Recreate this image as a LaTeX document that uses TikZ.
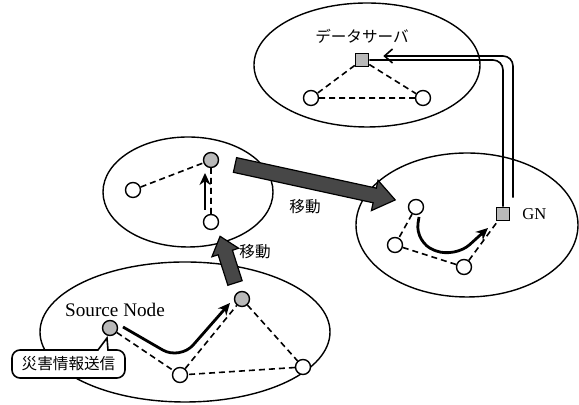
\documentclass[tikz,border=0pt]{standalone}
\usepackage{fontspec}
\setmainfont{Liberation Serif}
\newfontfamily\jfont{Noto Sans CJK JP}
\usetikzlibrary{arrows.meta,calc,positioning}

\begin{document}
\begin{tikzpicture}[x=0.5pt, y=0.5pt,
  area/.style={draw, line width=0.7pt},
  host/.style={circle, draw, line width=0.7pt, fill=white, minimum size=7.5pt, inner sep=0pt},
  mobile/.style={host, fill=gray!55},
  gw/.style={rectangle, draw, line width=0.8pt, fill=gray!55, minimum size=6.5pt, inner sep=0pt},
  link/.style={dash pattern=on 3pt off 2pt, line width=0.8pt},
  route/.style={line width=1.4pt, rounded corners=6pt, -{Stealth[length=6pt, width=5.5pt]}},
  move/.style={draw, line width=0.6pt, fill=black!72},
  jp/.style={font=\jfont\fontsize{7.8}{9}\selectfont},
]
  \useasboundingbox (0,0) rectangle (579,405);

  % four areas
  \draw[area] (367,340) ellipse (113 and 62);
  \draw[area] (188,213) ellipse (85 and 55);
  \draw[area] (467,180) ellipse (111 and 72);
  \draw[area] (185,73) ellipse (145 and 70);

  % data server area
  \node[gw] (ds) at (362,345) {};
  \node[jp, above=1pt of ds] (dslbl) {データサーバ};
  \node[host] (t1) at (311,307) {};
  \node[host] (t2) at (423,307) {};
  \draw[link] (ds) -- (t1) (ds) -- (t2) (t1) -- (t2);

  % middle area
  \node[mobile] (m0) at (211,245) {};
  \node[host] (m1) at (133,215) {};
  \node[host] (m2) at (211,183) {};
  \draw[link] (m1) -- (m0) (m2) -- (m0);
  \draw[route] ($(m2)+(-6,12)$) -- ($(m0)+(-6,-13)$);

  % source area
  \node[mobile] (src) at (110,77) {};
  \node[host] (b1) at (180,30) {};
  \node[mobile] (b2) at (242,106) {};
  \node[host] (b3) at (303,38) {};
  \draw[link] (src) -- (b1) -- (b2) -- (b3) -- (b1);
  \draw[route, rounded corners=10pt] ($(src)+(13,1)$) -- ($(b1)+(0,15)$) -- ($(b2)+(-12,-4)$);
  \node[font=\fontsize{9.6}{11}\selectfont] (srclbl) at (115,95) {Source Node};

  % gateway area
  \node[host] (r1) at (416,198) {};
  \node[host] (r2) at (395,160) {};
  \node[host] (r3) at (464,138) {};
  \node[gw] (gn) at (503,191) {};
  \node[font=\fontsize{8.3}{10}\selectfont, right=2.5pt of gn] (gnlbl) {GN};
  \draw[link] (r1) -- (r2) -- (r3) -- (gn);
  \draw[route, rounded corners=10pt] ($(r1)+(3,-10)$) -- ($(r2)+(20,2)$) -- ($(r3)+(-9,9)$) -- ($(gn)+(-15,-14)$);

  % upload to the server
  \draw[line width=0.8pt, rounded corners=5pt] (gn.north) |- (ds.east);
  \draw[line width=0.8pt, rounded corners=5pt, -{Straight Barb[length=4pt, width=7pt]}]
    ($(gn.north)+(10,9)$) |- ($(ds.east)+(14,4)$);

  % movement arrows
  \begin{scope}[shift={(235,240)}, rotate=-12.3]
    \draw[move] (0,-7.5) -- (143,-7.5) -- (143,-15.5) -- (164,0) -- (143,15.5) -- (143,7.5) -- (0,7.5) -- cycle;
  \end{scope}
  \begin{scope}[shift={(235,122)}, rotate=107.7]
    \draw[move] (0,-7.5) -- (32,-7.5) -- (32,-14) -- (49,0) -- (32,14) -- (32,7.5) -- (0,7.5) -- cycle;
  \end{scope}
  \node[jp] (mv1) at (255,153) {移動};
  \node[jp] (mv2) at (305,198) {移動};

  % message callout
  \coordinate (msgnw) at (12,55);
  \coordinate (msgse) at (125,27);
  \draw[line width=0.8pt, fill=white, rounded corners=4pt]
    (msgnw) [sharp corners] -- ($(msgnw)+(86,0)$) -- ($(src)+(-3,-10)$)
    -- ($(msgnw)+(96,0)$) [rounded corners=4pt] -- (msgse |- msgnw)
    -- (msgse) -- (msgnw |- msgse) -- cycle;
  \node[jp] (msg) at ($(msgnw)!0.5!(msgse)$) {災害情報送信};
\end{tikzpicture}
\end{document}
